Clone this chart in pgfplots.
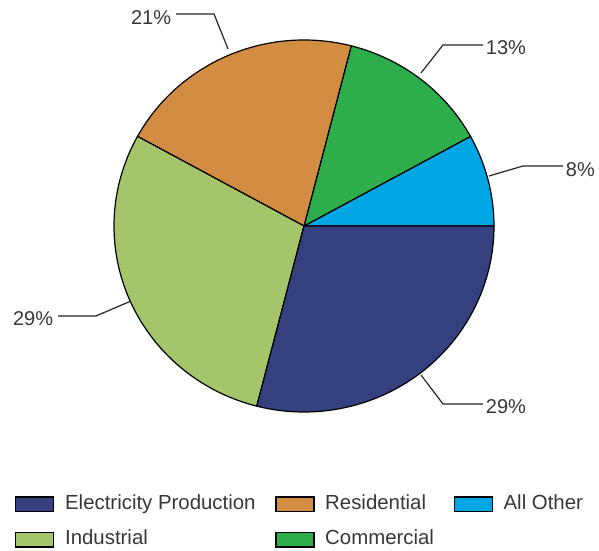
\documentclass[border=0pt]{standalone}
\usepackage{pgfplots}
\usepackage{pgfplotstable}
\pgfplotsset{compat=1.18}
\usepackage{fontspec}
\setmainfont{Liberation Sans}
\definecolor{celec}{RGB}{53,64,127}
\definecolor{cres}{RGB}{211,141,66}
\definecolor{cother}{RGB}{0,166,227}
\definecolor{cind}{RGB}{165,197,107}
\definecolor{ccomm}{RGB}{45,174,75}
\definecolor{txt}{RGB}{55,55,55}
\pgfplotstableread{
name value color
{All Other} 8 cother
Commercial 13 ccomm
Residential 21 cres
Industrial 29 cind
{Electricity Production} 29 celec
}\piedata
\begin{document}
\begin{tikzpicture}
\useasboundingbox (0,0) rectangle (449.25pt,412.5pt);
\begin{axis}[
  at={(0,0)}, anchor=south west,
  scale only axis, width=449.25pt, height=412.5pt,
  xmin=0, xmax=599, ymin=0, ymax=550,
  hide axis, clip=false,
  font=\fontsize{15}{18}\selectfont\color{txt},
  legend columns=3,
  legend cell align=left,
  legend style={at={(axis cs:15,58)}, anchor=north west, draw=none, fill=none,
    inner sep=0pt, font=\fontsize{15.3}{18}\selectfont\color{txt},
    /tikz/every even column/.append style={column sep=12.8pt},
    /tikz/every odd column/.append style={column sep=6pt},
    row sep=8.5pt,
    nodes={inner sep=2pt, text height=11pt, text depth=3pt}},
  legend image code/.code={\filldraw[#1, draw=black, line width=0.9pt] (0pt,-5.5pt) rectangle (28.5pt,5.5pt);},
]
\addlegendimage{fill=celec}\addlegendentry{Electricity Production}
\addlegendimage{fill=cres}\addlegendentry{Residential}
\addlegendimage{fill=cother}\addlegendentry{All Other}
\addlegendimage{fill=cind}\addlegendentry{Industrial}
\addlegendimage{fill=ccomm}\addlegendentry{Commercial}
\pgfplotstablegetrowsof{\piedata}
\pgfmathtruncatemacro\N{\pgfplotsretval-1}
\def\cum{0}
\pgfplotsforeachungrouped \i in {0,...,\N}{%
  \pgfplotstablegetelem{\i}{value}\of\piedata \let\v\pgfplotsretval
  \pgfplotstablegetelem{\i}{color}\of\piedata \let\c\pgfplotsretval
  \pgfmathsetmacro\a{\cum*3.6}%
  \pgfmathsetmacro\b{(\cum+\v)*3.6}%
  \edef\temp{\noexpand\filldraw[fill=\c, draw=black, line width=0.9pt, line join=round] (axis cs:304,324) -- ++(\a:142.5pt and 139.5pt) arc[start angle=\a, end angle=\b, x radius=142.5pt, y radius=139.5pt] -- cycle;}%
  \temp
  \pgfmathsetmacro\cum{\cum+\v}%
}
\draw[line width=0.9pt, black!85] (axis cs:228,501) -- (axis cs:214,536) -- (axis cs:176,536);
\node[anchor=east, inner sep=2pt] at (axis cs:174,532) {21\%};
\draw[line width=0.9pt, black!85] (axis cs:421,477) -- (axis cs:443,505) -- (axis cs:483,505);
\node[anchor=west, inner sep=2pt] at (axis cs:483,502) {13\%};
\draw[line width=0.9pt, black!85] (axis cs:489,374) -- (axis cs:523,384) -- (axis cs:563,384);
\node[anchor=west, inner sep=2pt] at (axis cs:563,380) {8\%};
\draw[line width=0.9pt, black!85] (axis cs:131,249) -- (axis cs:96,234) -- (axis cs:58,234);
\node[anchor=east, inner sep=2pt] at (axis cs:56,231) {29\%};
\draw[line width=0.9pt, black!85] (axis cs:421,175) -- (axis cs:443,146) -- (axis cs:483,146);
\node[anchor=west, inner sep=2pt] at (axis cs:483,143) {29\%};
\end{axis}
\end{tikzpicture}
\end{document}
